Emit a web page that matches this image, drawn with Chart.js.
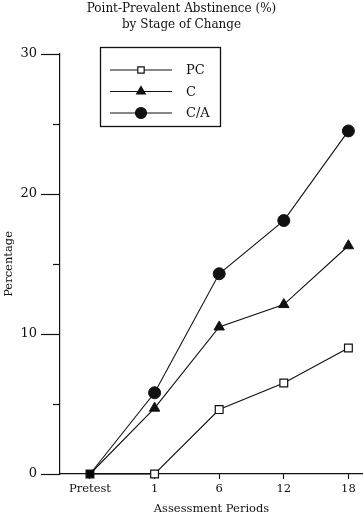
<!DOCTYPE html>
<html>
<head>
  <script src="https://cdn.jsdelivr.net/npm/chart.js"></script>
  <style>
    html, body { margin: 0; padding: 0; background: #fff; overflow: hidden; }
    #wrap { width: 363px; height: 518px; position: relative; }
    canvas { display: block; }
  </style>
</head>
<body>
  <div id="wrap"><canvas id="myChart"></canvas></div>

  <script>
    // data
    var periods = ['Pretest', '1', '6', '12', '18'];
    var pcValues = [0, 0, 4.6, 6.5, 9.0];
    var cValues = [0, 4.7, 10.5, 12.1, 16.3];
    var caValues = [0, 5.8, 14.3, 18.1, 24.5];
    var seriesNames = ['PC', 'C', 'C/A'];
    var yTicks = [0, 10, 20, 30];

    var ink = '#111';
    var serif = '"DejaVu Serif", "Liberation Serif", serif';

    function pts(vals) {
      return vals.map(function (v, i) { return { x: i, y: v }; });
    }

    // y tick marks: long at labelled values, short in between
    var tickMarks = {
      id: 'tickMarks',
      afterDraw: function (chart) {
        var ctx = chart.ctx, y = chart.scales.y, left = chart.chartArea.left;
        ctx.save();
        ctx.strokeStyle = ink;
        ctx.lineWidth = 1.2;
        y.ticks.forEach(function (t) {
          var py = Math.round(y.getPixelForValue(t.value)) + 0.5;
          var len = yTicks.indexOf(t.value) >= 0 ? 19 : 7;
          ctx.beginPath();
          ctx.moveTo(left - len, py);
          ctx.lineTo(left, py);
          ctx.stroke();
        });
        ctx.restore();
      }
    };

    // boxed legend inside the plot, line with marker in the middle
    var legendSizes = [4.5, 5, 5.5];
    var boxLegend = {
      id: 'boxLegend',
      afterDraw: function (chart) {
        var ctx = chart.ctx;
        var bx = 100, by = 47, bw = 120, bh = 79;
        ctx.save();
        ctx.fillStyle = '#fff';
        ctx.fillRect(bx, by, bw, bh);
        ctx.strokeStyle = ink;
        ctx.lineWidth = 1.3;
        ctx.strokeRect(bx + 0.5, by + 0.5, bw, bh);
        chart.data.datasets.forEach(function (ds, i) {
          var ry = 70 + i * 21.5;
          ctx.strokeStyle = ink;
          ctx.lineWidth = 1.1;
          ctx.beginPath();
          ctx.moveTo(110, ry);
          ctx.lineTo(172, ry);
          ctx.stroke();
          ctx.fillStyle = i === 0 ? '#fff' : ink;
          ctx.strokeStyle = ink;
          ctx.lineWidth = 1.2;
          Chart.helpers.drawPoint(ctx, { pointStyle: ds.pointStyle, radius: legendSizes[i], borderWidth: 1.2 }, 141, ry);
          ctx.fillStyle = ink;
          ctx.font = '13px ' + serif;
          ctx.textAlign = 'left';
          ctx.textBaseline = 'middle';
          ctx.fillText(ds.label, 186, ry + 1);
        });
        ctx.restore();
      }
    };

    var ctx = document.getElementById('myChart').getContext('2d');
    var myChart = new Chart(ctx, {
      type: 'line',
      data: {
        datasets: [{
          label: seriesNames[0],
          data: pts(pcValues),
          borderColor: ink,
          borderWidth: 1.1,
          clip: false,
          pointStyle: 'rect',
          pointRadius: 5.5,
          pointBorderWidth: 1.2,
          pointBorderColor: ink,
          pointBackgroundColor: ['#000', '#fff', '#fff', '#fff', '#fff']
        }, {
          label: seriesNames[1],
          data: pts(cValues),
          borderColor: ink,
          borderWidth: 1.1,
          clip: false,
          pointStyle: 'triangle',
          pointRadius: [0, 6, 6, 6, 6],
          pointBorderWidth: 1,
          pointBorderColor: ink,
          pointBackgroundColor: ink
        }, {
          label: seriesNames[2],
          data: pts(caValues),
          borderColor: ink,
          borderWidth: 1.1,
          clip: false,
          pointStyle: 'circle',
          pointRadius: [0, 6, 6, 6, 6],
          pointBorderWidth: 1,
          pointBorderColor: ink,
          pointBackgroundColor: ink
        }]
      },
      options: {
        responsive: true,
        maintainAspectRatio: false,
        animation: false,
        layout: { autoPadding: false, padding: { left: 0, right: 0, top: 0, bottom: 0 } },
        plugins: {
          legend: { display: false },
          tooltip: { enabled: false },
          title: {
            display: true,
            text: ['Point-Prevalent Abstinence (%)', 'by Stage of Change'],
            color: ink,
            font: { family: serif, size: 12, weight: 'normal', lineHeight: 1.33 },
            padding: { top: 1, bottom: 21 }
          }
        },
        scales: {
          x: {
            type: 'linear',
            min: -0.464,
            max: 4.226,
            afterBuildTicks: function (s) {
              s.ticks = periods.map(function (p, i) { return { value: i }; });
            },
            afterFit: function (s) { s.height = 44; s.paddingRight = 0; s.paddingLeft = 0; },
            ticks: {
              color: ink,
              font: { family: serif, size: 11.5 },
              padding: 3,
              maxRotation: 0,
              callback: function (v) { return periods[v]; }
            },
            grid: { drawOnChartArea: false, drawTicks: true, tickLength: 5, tickColor: ink, tickWidth: 1.2 },
            border: { display: true, color: ink, width: 1.2 },
            title: {
              display: true,
              text: 'Assessment Periods',
              color: ink,
              font: { family: serif, size: 11.5 },
              padding: { top: 0, bottom: 2 }
            }
          },
          y: {
            min: 0,
            max: 30,
            afterFit: function (s) { s.width = 60; },
            ticks: {
              stepSize: 5,
              color: ink,
              font: { family: serif, size: 13 },
              padding: 23,
              callback: function (v) { return yTicks.indexOf(v) >= 0 ? v : ''; }
            },
            grid: { display: true, drawOnChartArea: false, drawTicks: false },
            border: { display: true, color: ink, width: 1.2 },
            title: {
              display: true,
              text: 'Percentage',
              color: ink,
              font: { family: serif, size: 11.5 },
              padding: { top: 2, bottom: 0 }
            }
          }
        }
      },
      plugins: [tickMarks, boxLegend]
    });
  </script>
</body>
</html>
